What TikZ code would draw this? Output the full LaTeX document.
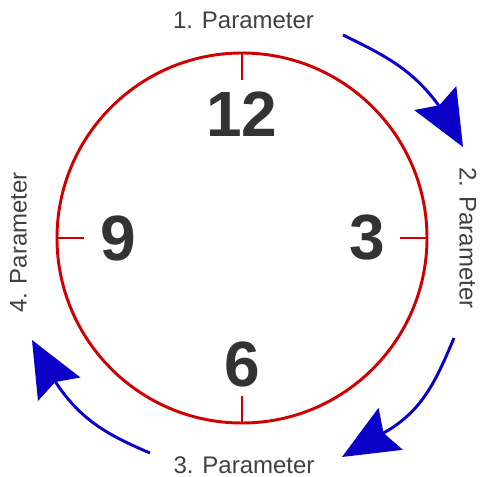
\documentclass[tikz,border=0pt]{standalone}
\usepackage{fontspec}
\setmainfont{Liberation Sans}
\usepackage{tikz}
\usetikzlibrary{arrows.meta}
\definecolor{clockred}{RGB}{208,0,0}
\definecolor{arrblue}{RGB}{10,0,200}
\definecolor{numgray}{RGB}{51,51,51}
\definecolor{lblgray}{RGB}{64,64,64}
\tikzset{
  rim/.style={clockred,line width=2.2pt},
  num/.style={numgray,font=\fontsize{48}{52}\selectfont\bfseries,inner sep=0pt},
  lbl/.style={lblgray,font=\fontsize{18}{20}\selectfont,inner sep=0pt},
  shaft/.style={arrblue,line width=2.2pt},
  turn/.style={shaft,-{Stealth[length=42pt,width=36pt,inset=6pt]}}
}

\begin{document}
\begin{tikzpicture}[x=0.75pt,y=0.75pt]
    \useasboundingbox (-242,-239) rectangle (239,238);
    % clock face
    \draw[rim] (0,0) circle (185);
    \draw[rim] (0,185)--(0,158);
    \draw[rim] (185,0)--(158,0);
    \draw[rim] (0,-185)--(0,-158);
    \draw[rim] (-185,0)--(-158,0);
    % hours
    \node[num] (h12) at (0,124) {12};
    \node[num] (h3) at (125,0) {3};
    \node[num] (h6) at (0,-126) {6};
    \node[num] (h9) at (-124,0) {9};
    % parameters
    \node[lbl] (p1) at (1.5,218) {1. Parameter};
    \node[lbl,rotate=-90] (p2) at (226,0) {2. Parameter};
    \node[lbl] (p3) at (2,-227) {3. Parameter};
    \node[lbl,rotate=90] (p4) at (-223.5,-4.5) {4. Parameter};
    % arrows
    \coordinate (a1s) at (101,203);
    \coordinate (a1m) at (200,128);
    \coordinate (a1e) at (221,91);
    \coordinate (a2s) at (212,-100);
    \coordinate (a2m) at (138,-197);
    \coordinate (a2e) at (100,-219);
    \coordinate (a3s) at (-92,-215);
    \coordinate (a3m) at (-189,-140);
    \coordinate (a3e) at (-210,-102);
    \draw[shaft] (a1s) to[out=-26,in=125] (a1m);
    \draw[turn] (a1m) -- (a1e);
    \draw[shaft] (a2s) to[out=-113,in=28] (a2m);
    \draw[turn] (a2m) -- (a2e);
    \draw[shaft] (a3s) to[out=157,in=-58] (a3m);
    \draw[turn] (a3m) -- (a3e);
\end{tikzpicture}
\end{document}
